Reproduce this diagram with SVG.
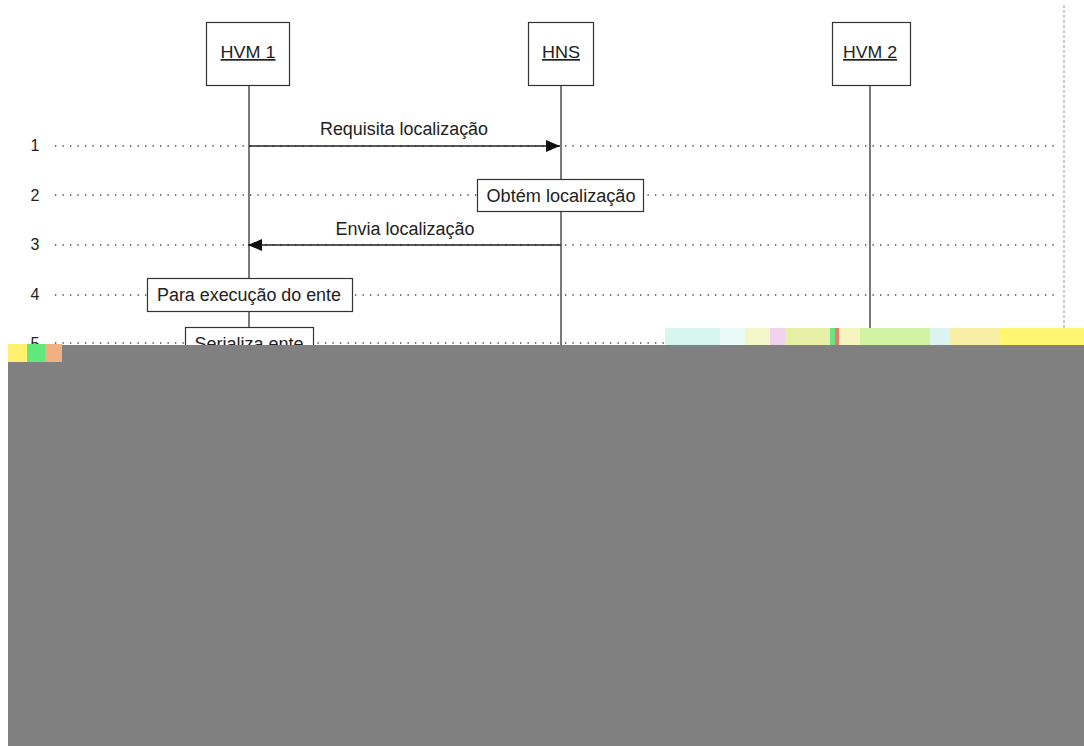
<svg xmlns="http://www.w3.org/2000/svg" width="1084" height="746" viewBox="0 0 1084 746">
<style>
.box{fill:#fff;stroke:#333;stroke-width:1.2}
.life{stroke:#333;stroke-width:1.3;fill:none}
.dot{stroke:#444;stroke-width:1.3;stroke-dasharray:1.3 6.2;fill:none}
.msg{stroke:#222;stroke-width:1.3;fill:none}
.t{font-family:"Liberation Sans",Arial,sans-serif;font-size:18px;fill:#222}
.h{font-family:"Liberation Sans",Arial,sans-serif;font-size:17px;fill:#222;text-decoration:underline}
.n{font-family:"Liberation Sans",Arial,sans-serif;font-size:16px;fill:#222}
</style>
<defs>
<marker id="ah" markerWidth="14" markerHeight="12" refX="14" refY="6" orient="auto" markerUnits="userSpaceOnUse">
<path d="M0,0 L14,6 L0,12 Z" fill="#111"/>
</marker>
</defs>
<rect width="1084" height="746" fill="#fff"/>
<line x1="1064" y1="5" x2="1064" y2="328" stroke="#bbb" stroke-width="1.5" stroke-dasharray="3 2"/>
<g id="rows">
<line class="dot" x1="55" y1="146" x2="1058" y2="146"/>
<line class="dot" x1="55" y1="195" x2="1058" y2="195"/>
<line class="dot" x1="55" y1="245" x2="1058" y2="245"/>
<line class="dot" x1="55" y1="295" x2="1058" y2="295"/>
<line class="dot" x1="55" y1="343" x2="1058" y2="343"/>
<text class="n" x="35" y="151" text-anchor="middle">1</text>
<text class="n" x="35" y="201" text-anchor="middle">2</text>
<text class="n" x="35" y="250" text-anchor="middle">3</text>
<text class="n" x="35" y="300" text-anchor="middle">4</text>
<text class="n" x="35" y="349" text-anchor="middle">5</text>
</g>
<g id="lifelines">
<line class="life" x1="249" y1="85" x2="249" y2="360"/>
<line class="life" x1="561" y1="85" x2="561" y2="360"/>
<line class="life" x1="870" y1="85" x2="870" y2="340"/>
</g>
<g id="hvm1">
<rect class="box" x="206.5" y="22.5" width="83" height="63"/>
<text class="h" x="248" y="58" text-anchor="middle" textLength="55" lengthAdjust="spacingAndGlyphs">HVM 1</text>
</g>
<g id="hns">
<rect class="box" x="528.5" y="22.5" width="65" height="63"/>
<text class="h" x="561" y="58" text-anchor="middle" textLength="38" lengthAdjust="spacingAndGlyphs">HNS</text>
</g>
<g id="hvm2">
<rect class="box" x="832.5" y="22.5" width="78" height="63"/>
<text class="h" x="870" y="58" text-anchor="middle" textLength="54" lengthAdjust="spacingAndGlyphs">HVM 2</text>
</g>
<g id="connectors">
<line class="msg" x1="249" y1="146" x2="560" y2="146" marker-end="url(#ah)"/>
<text class="t" x="404" y="135" text-anchor="middle" textLength="168" lengthAdjust="spacingAndGlyphs">Requisita localização</text>
<line class="msg" x1="561" y1="245" x2="248" y2="245" marker-end="url(#ah)"/>
<text class="t" x="405" y="235" text-anchor="middle" textLength="139" lengthAdjust="spacingAndGlyphs">Envia localização</text>
</g>
<g id="obtem">
<rect class="box" x="477.5" y="179.5" width="166" height="32"/>
<text class="t" x="561" y="202" text-anchor="middle" textLength="149" lengthAdjust="spacingAndGlyphs">Obtém localização</text>
</g>
<g id="para">
<rect class="box" x="147.5" y="278.5" width="205" height="33"/>
<text class="t" x="249" y="301" text-anchor="middle" textLength="184" lengthAdjust="spacingAndGlyphs">Para execução do ente</text>
</g>
<g id="serializa">
<rect class="box" x="185.5" y="327.5" width="128" height="33"/>
<text class="t" x="249" y="350" text-anchor="middle">Serializa ente</text>
</g>
<g id="corruption">
<rect x="665" y="328" width="55" height="18" fill="#d6f6ee"/>
<rect x="720" y="328" width="25" height="18" fill="#eafaf6"/>
<rect x="745" y="328" width="25" height="18" fill="#f2f6c8"/>
<rect x="770" y="328" width="15" height="18" fill="#f0d2ee"/>
<rect x="785" y="328" width="45" height="18" fill="#e6efa6"/>
<rect x="830" y="328" width="5" height="18" fill="#6ee08a"/>
<rect x="835" y="328" width="4" height="18" fill="#f07a6a"/>
<rect x="839" y="328" width="21" height="18" fill="#f6f4c0"/>
<rect x="860" y="328" width="70" height="18" fill="#d2f2a6"/>
<rect x="930" y="328" width="20" height="18" fill="#dcf4f0"/>
<rect x="950" y="328" width="50" height="18" fill="#f8eea6"/>
<rect x="1000" y="328" width="84" height="18" fill="#fff672"/>
<rect x="8" y="344" width="19" height="19" fill="#fff070"/>
<rect x="27" y="344" width="18" height="19" fill="#5ee87e"/>
<rect x="45" y="344" width="17" height="19" fill="#f0b080"/>
<rect x="62" y="345" width="1022" height="401" fill="#808080"/>
<rect x="8" y="362" width="54" height="384" fill="#808080"/>
</g>
</svg>
